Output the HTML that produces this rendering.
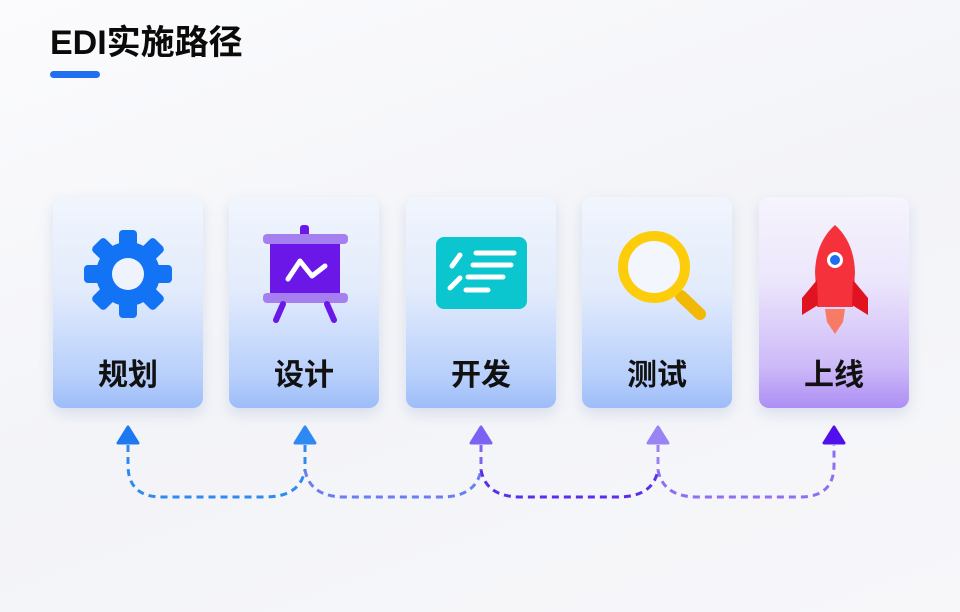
<!DOCTYPE html>
<html><head><meta charset="utf-8"><style>
body{margin:0;width:960px;height:612px;overflow:hidden;background:linear-gradient(160deg,#fbfbfd 0%,#f3f4f8 50%,#f7f7fa 100%);font-family:"Liberation Sans","Noto Sans CJK SC",sans-serif;position:relative}
.t{position:absolute;left:50px;top:15px;font-size:34px;font-weight:bold;color:#0a0a0a}
.bar{position:absolute;left:50px;top:71px;width:50px;height:7px;border-radius:4px;background:#1f6ff0}
.c{position:absolute;top:197px;width:150px;height:211px;border-radius:10px;box-shadow:0 6px 14px rgba(120,140,190,.22);background:linear-gradient(180deg,#f1f5fd 0%,#e2ebfc 45%,#b7cffb 85%,#9dbcf8 100%)}
.c.p{background:linear-gradient(180deg,#f6f4fd 0%,#ece6fc 40%,#cdbaf8 80%,#ad8ef4 100%)}
.l{position:absolute;left:0;right:0;top:153px;text-align:center;font-size:30px;font-weight:bold;color:#111}
svg{position:absolute;left:0;top:0}
</style></head><body>
<div class="t">EDI实施路径</div><div class="bar"></div>
<div class="c" style="left:53px"><div class="l">规划</div></div>
<div class="c" style="left:229px"><div class="l">设计</div></div>
<div class="c" style="left:406px"><div class="l">开发</div></div>
<div class="c" style="left:582px"><div class="l">测试</div></div>
<div class="c p" style="left:759px"><div class="l">上线</div></div>
<svg width="960" height="612">
<g transform="translate(128,274)" fill="#1273f5">
<g><rect x="-9" y="-44" width="18" height="18" rx="4"/><rect x="-9" y="26" width="18" height="18" rx="4"/><rect x="-44" y="-9" width="18" height="18" rx="4"/><rect x="26" y="-9" width="18" height="18" rx="4"/></g>
<g transform="rotate(45)"><rect x="-9" y="-44" width="18" height="18" rx="4"/><rect x="-9" y="26" width="18" height="18" rx="4"/><rect x="-44" y="-9" width="18" height="18" rx="4"/><rect x="26" y="-9" width="18" height="18" rx="4"/></g>
<circle r="32"/><circle r="16" fill="#eef3fd"/></g>
<rect x="300" y="225" width="9" height="14" rx="3" fill="#6a17e8"/>
<rect x="270" y="243" width="70" height="52" fill="#6a17e8"/>
<rect x="263" y="234" width="85" height="10" rx="4" fill="#a57ef0"/>
<rect x="263" y="293" width="85" height="10" rx="4" fill="#a57ef0"/>
<line x1="283" y1="304" x2="276" y2="320" stroke="#6a17e8" stroke-width="6" stroke-linecap="round"/>
<line x1="327" y1="304" x2="334" y2="320" stroke="#6a17e8" stroke-width="6" stroke-linecap="round"/>
<polyline points="288,279 300,261 312,276 325,266" fill="none" stroke="#fff" stroke-width="5" stroke-linecap="round" stroke-linejoin="round"/>
<rect x="436" y="237" width="91" height="72" rx="8" fill="#0bc5cf"/>
<g stroke="#fff" stroke-width="5" stroke-linecap="round"><line x1="452" y1="266" x2="460" y2="255"/><line x1="450" y1="288" x2="460" y2="278"/><line x1="476" y1="253" x2="514" y2="253"/><line x1="473" y1="265" x2="511" y2="265"/><line x1="468" y1="277" x2="503" y2="277"/><line x1="466" y1="290" x2="488" y2="290"/></g>
<line x1="681" y1="296" x2="700" y2="314" stroke="#f2b806" stroke-width="12" stroke-linecap="round"/>
<circle cx="654" cy="267" r="31" fill="#f3f7fd" stroke="#fdcc0b" stroke-width="10"/>
<path d="M835 225 Q816 242 815 272 L817 307 L853 307 L855 272 Q854 242 835 225Z" fill="#f5323c"/>
<path d="M817 280 L802 298 L802 315 L818 305Z M853 280 L868 298 L868 315 L852 305Z" fill="#e01420"/>
<path d="M825 309 L845 309 L843 322 L835 334 L827 322Z" fill="#fa6b4a" opacity=".85"/>
<circle cx="835" cy="260" r="8" fill="#fff"/><circle cx="835" cy="260" r="5" fill="#1e6ff0"/>
<g fill="none" stroke-width="3" stroke-dasharray="7 5">
<path d="M128,445 V465 Q128,497 162,497 H265 Q300,497 305,470" stroke="#2f8af0"/>
<path d="M305,470 Q310,497 345,497 H441 Q476,497 481,470" stroke="#6a7ef2"/>
<path d="M481,470 Q486,497 521,497 H618 Q653,497 658,470" stroke="#5c2ee8"/>
<path d="M658,470 Q663,497 698,497 H800 Q834,497 834,465 V445" stroke="#8f6ef3"/>
<path d="M305,445 V470" stroke="#2f8af0"/><path d="M481,445 V470" stroke="#8063f3"/><path d="M658,445 V470" stroke="#9a82f5"/>
</g>
<polygon points="128,427 118,443 138,443" fill="#1e78f0" stroke="#1e78f0" stroke-width="3" stroke-linejoin="round"/>
<polygon points="305,427 295,443 315,443" fill="#2e8af2" stroke="#2e8af2" stroke-width="3" stroke-linejoin="round"/>
<polygon points="481,427 471,443 491,443" fill="#7b62f2" stroke="#7b62f2" stroke-width="3" stroke-linejoin="round"/>
<polygon points="658,427 648,443 668,443" fill="#9a84f5" stroke="#9a84f5" stroke-width="3" stroke-linejoin="round"/>
<polygon points="834,427 824,443 844,443" fill="#5010ee" stroke="#5010ee" stroke-width="3" stroke-linejoin="round"/>
</svg>
</body></html>
